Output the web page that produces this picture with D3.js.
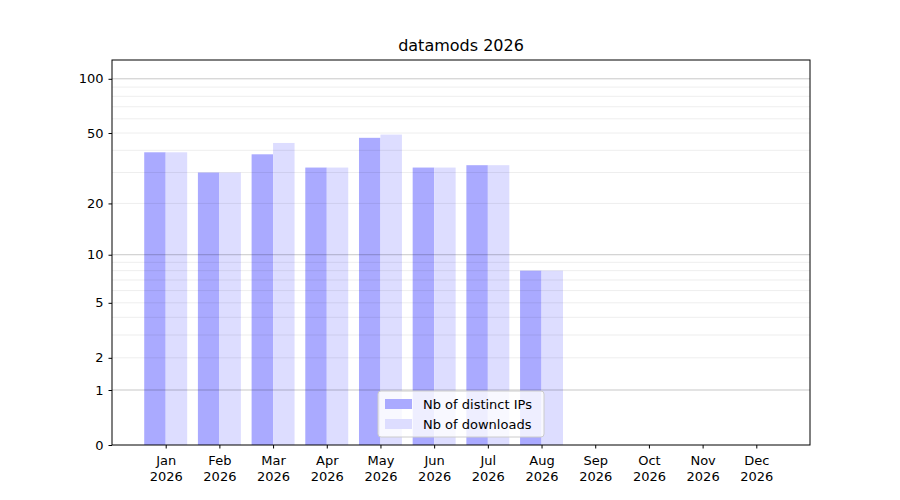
<!DOCTYPE html>
<html><head><meta charset="utf-8">
<script src="https://cdn.jsdelivr.net/npm/d3@7"></script>
<style>body{margin:0;background:#fff} text{font-family:"DejaVu Sans",sans-serif}</style>
</head><body><div id="graph"></div>
<script>
var months = ["Jan","Feb","Mar","Apr","May","Jun","Jul","Aug","Sep","Oct","Nov","Dec"];
var distinctIPs = [39, 30, 38, 32, 47, 32, 33, 8];
var downloads = [39, 30, 44, 32, 49, 32, 33, 8];
var yTicks = [0, 1, 2, 5, 10, 20, 50, 100];
var majorGrid = [1, 10, 100];
var minorGrid = [2,3,4,5,6,7,8,9,20,30,40,50,60,70,80,90];

var margin = {top: 60, right: 90, bottom: 55, left: 112},
  width = 900 - margin.left - margin.right,
  height = 500 - margin.top - margin.bottom;

var svg = d3.select("#graph").append("svg")
  .attr("width", 900).attr("height", 500)
  .append("g")
  .attr("transform", "translate(" + margin.left + "," + margin.top + ")");

var x = d3.scaleLinear().domain([-1, 12]).range([0, width]);
var y = d3.scaleSymlog().constant(1).domain([0, 127]).range([height, 0]);
var bw = x(0.4) - x(0);

svg.selectAll(".ip").data(distinctIPs).enter().append("rect")
  .attr("x", function(d, i){ return x(i) - bw; })
  .attr("y", function(d){ return y(d); })
  .attr("width", bw)
  .attr("height", function(d){ return height - y(d); })
  .attr("fill", "#aaaaff");

svg.selectAll(".dl").data(downloads).enter().append("rect")
  .attr("x", function(d, i){ return x(i); })
  .attr("y", function(d){ return y(d); })
  .attr("width", bw)
  .attr("height", function(d){ return height - y(d); })
  .attr("fill", "#ddddff");

svg.selectAll(".minor").data(minorGrid).enter().append("line")
  .attr("x1", 0).attr("x2", width)
  .attr("y1", function(d){ return y(d); }).attr("y2", function(d){ return y(d); })
  .attr("stroke", "#000").attr("stroke-opacity", 0.07);
svg.selectAll(".major").data(majorGrid).enter().append("line")
  .attr("x1", 0).attr("x2", width)
  .attr("y1", function(d){ return y(d); }).attr("y2", function(d){ return y(d); })
  .attr("stroke", "#000").attr("stroke-opacity", 0.22);

var yAxis = d3.axisLeft(y).tickValues(yTicks).tickFormat(d3.format("d")).tickSizeOuter(0).tickSize(3.5).tickPadding(5);
var ya = svg.append("g").call(yAxis);
var xAxis = d3.axisBottom(x).tickValues(d3.range(12)).tickSizeOuter(0).tickSize(3.5).tickFormat("");
var xa = svg.append("g").attr("transform", "translate(0," + height + ")").call(xAxis);
[ya, xa].forEach(function(a){
  a.selectAll("text").attr("font-size", 13).attr("fill", "#000");
  a.select(".domain").remove();
});

xa.selectAll(".tick").each(function(d){
  var t = d3.select(this).append("text").attr("fill", "#000").attr("font-size", 13).attr("text-anchor", "middle");
  t.append("tspan").attr("x", 0).attr("y", 20).text(months[d]);
  t.append("tspan").attr("x", 0).attr("y", 36).text("2026");
});

svg.append("rect").attr("width", width).attr("height", height)
  .attr("fill", "none").attr("stroke", "#000").attr("stroke-width", 1);

svg.append("text").attr("x", width / 2).attr("y", -9).attr("text-anchor", "middle")
  .attr("font-size", 16).text("datamods 2026");

var lg = svg.append("g").attr("transform", "translate(266,331)");
lg.append("rect").attr("width", 166).attr("height", 46).attr("rx", 3)
  .attr("fill", "#fff").attr("fill-opacity", 0.8).attr("stroke", "#ccc");
[["Nb of distinct IPs", "#aaaaff"], ["Nb of downloads", "#ddddff"]].forEach(function(e, i){
  lg.append("rect").attr("x", 7).attr("y", 8 + i * 20).attr("width", 27).attr("height", 10).attr("fill", e[1]);
  lg.append("text").attr("x", 45).attr("y", 18 + i * 20).attr("font-size", 13).text(e[0]);
});
</script></body></html>
